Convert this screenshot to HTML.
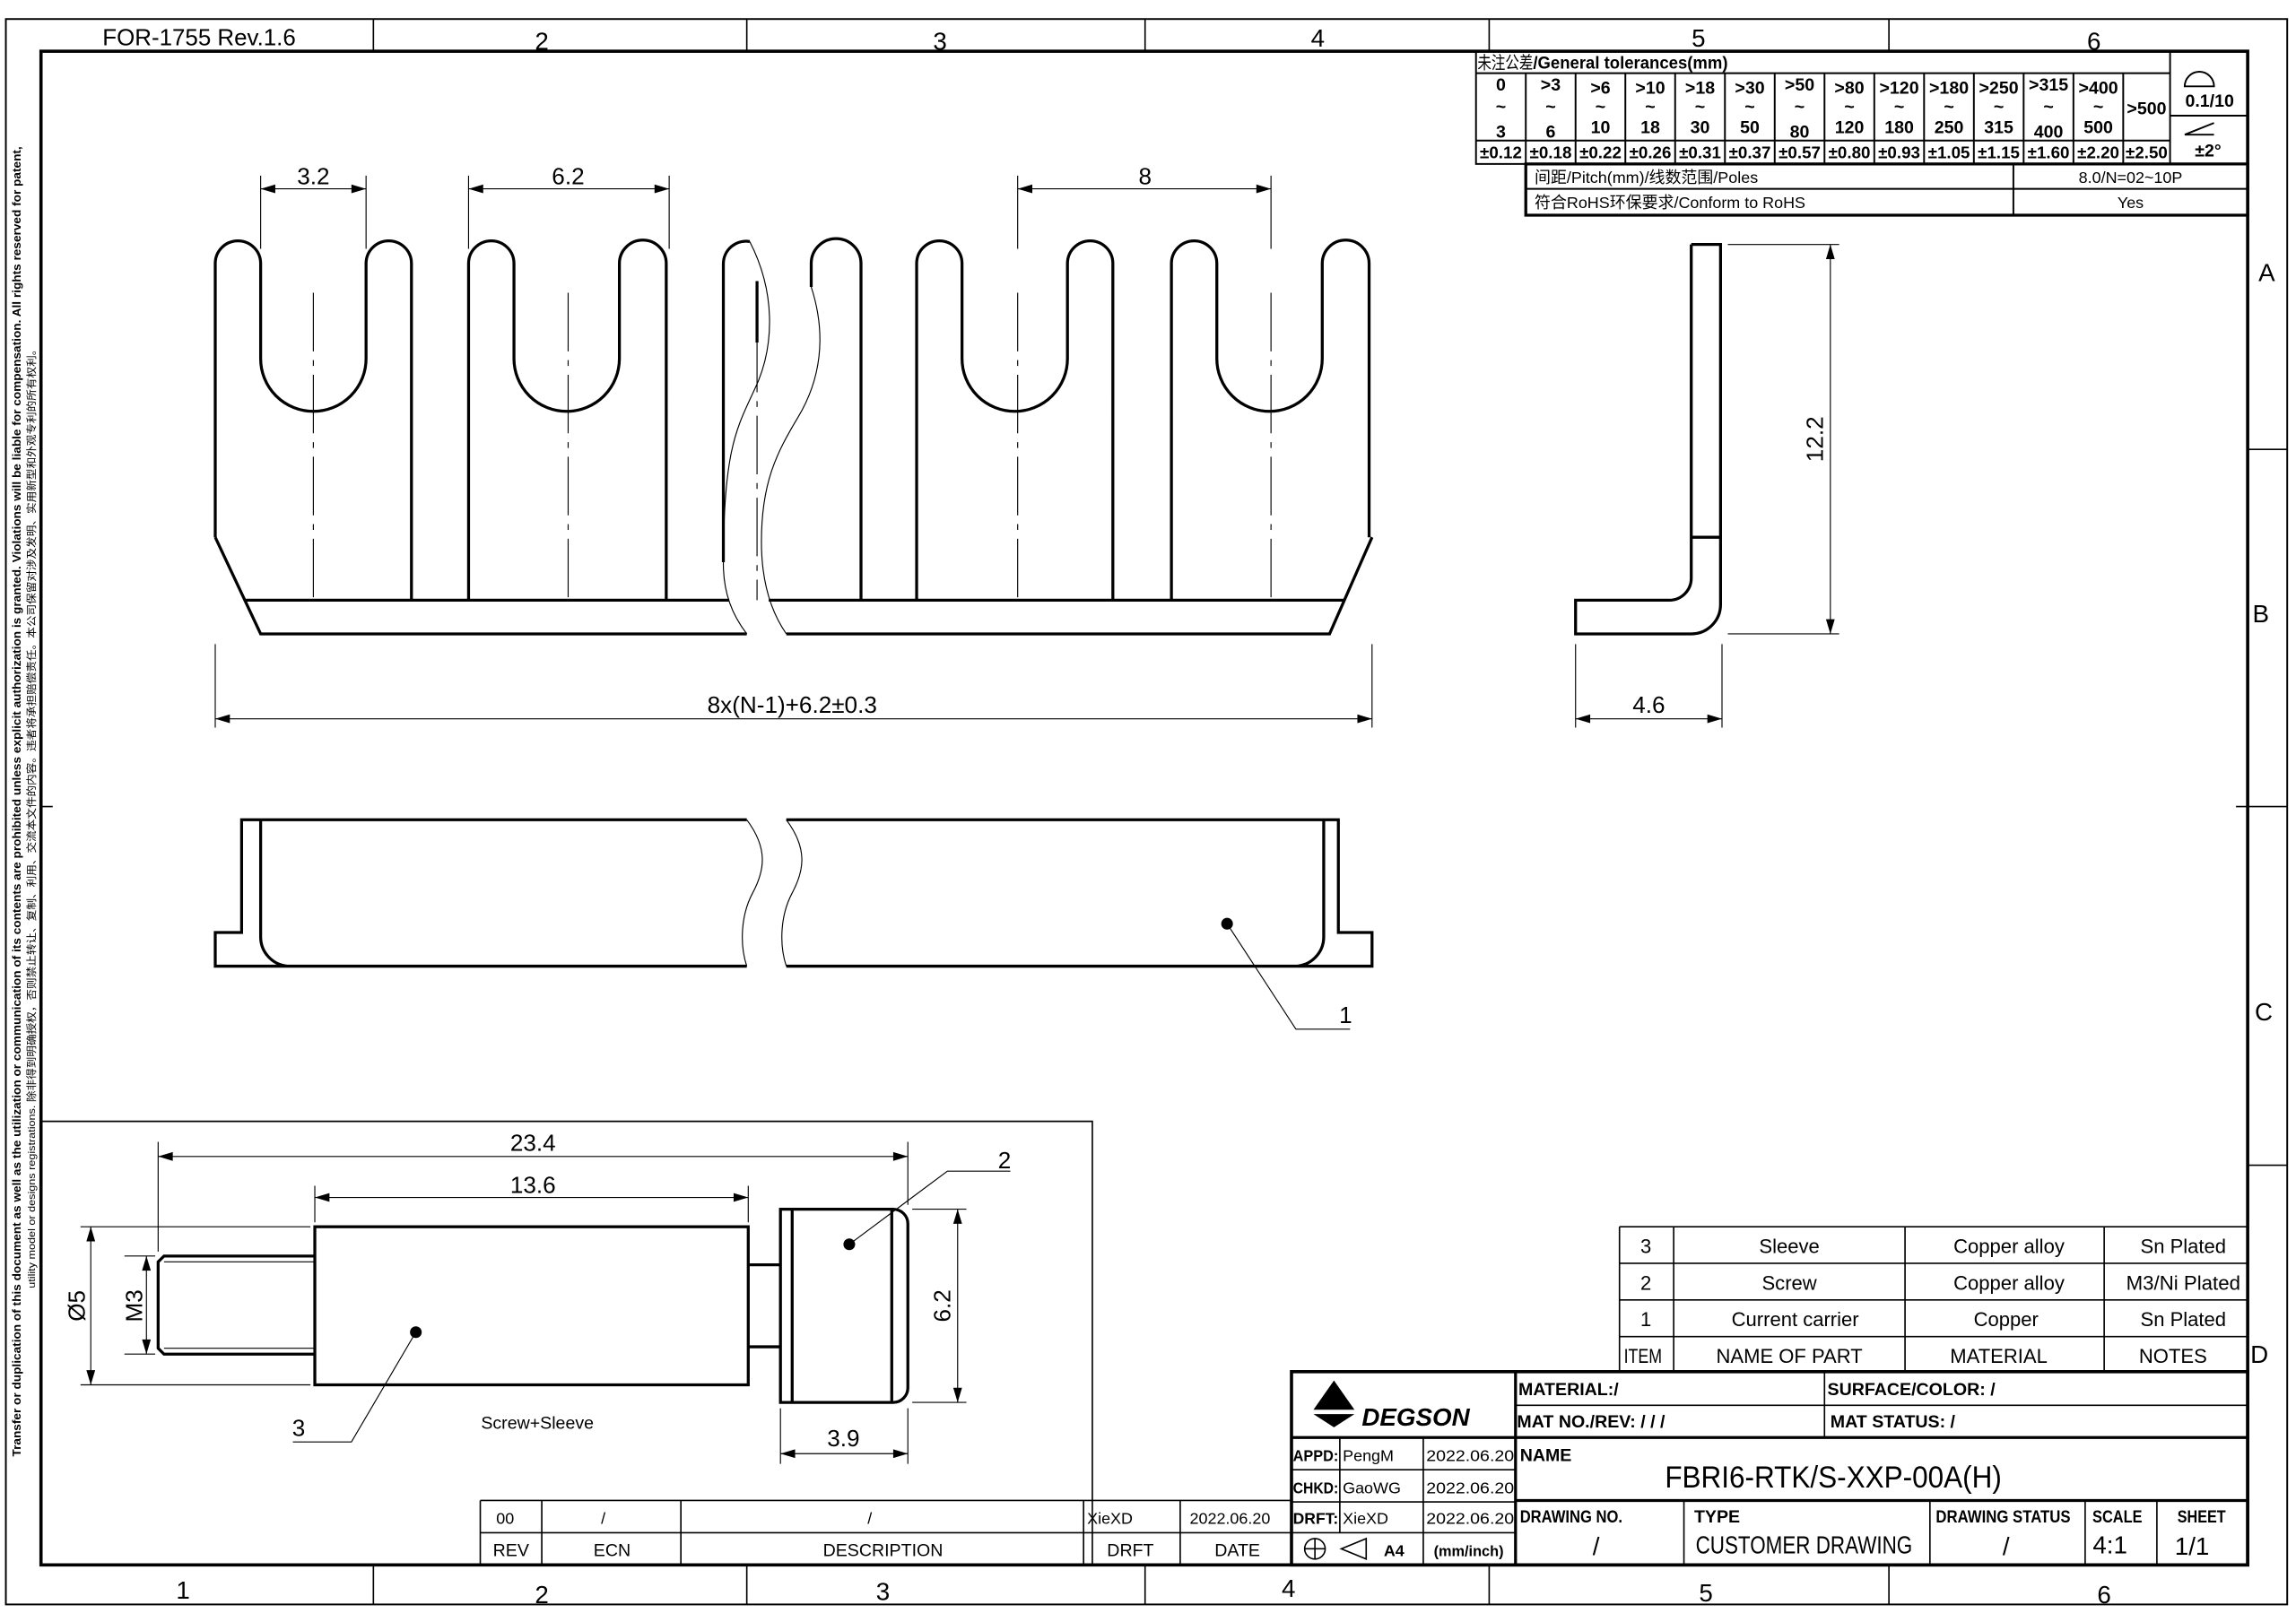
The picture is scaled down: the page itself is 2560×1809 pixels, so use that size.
<!DOCTYPE html>
<html><head><meta charset="utf-8"><style>
html,body{margin:0;padding:0;background:#fff}
svg{display:block}
text{font-family:"Liberation Sans","Noto Sans CJK SC",sans-serif;fill:#000}
.c{text-anchor:middle}
.b{font-weight:bold}
</style></head><body>
<svg width="2560" height="1809" viewBox="0 0 1568 1108" preserveAspectRatio="none" xmlns="http://www.w3.org/2000/svg">
<rect width="1568" height="1108" fill="#fff"/>
<g fill="none" stroke="#000">
<rect x="4" y="13" width="1558" height="1083" stroke-width="1.2"/>
<rect x="28" y="35" width="1507" height="1034" stroke-width="2.2"/>
<path d="M255 13V35M510 13V35M782 13V35M1017 13V35M1290 13V35M255 1069V1096M510 1069V1096M782 1069V1096M1017 1069V1096M1290 1069V1096M1535 307H1562M1535 551H1562M1535 796H1562M28 551H36M1527 551H1535" stroke-width="1"/>
</g>
<g font-size="17">
<text x="70" y="31" font-size="16" textLength="132" lengthAdjust="spacingAndGlyphs">FOR-1755 Rev.1.6</text>
<text x="370" y="34" class="c">2</text><text x="642" y="34" class="c">3</text><text x="900" y="32" class="c">4</text><text x="1160" y="32" class="c">5</text><text x="1430" y="34" class="c">6</text>
<text x="125" y="1092" class="c">1</text><text x="370" y="1095" class="c">2</text><text x="603" y="1093" class="c">3</text><text x="880" y="1091" class="c">4</text><text x="1165" y="1094" class="c">5</text><text x="1437" y="1095" class="c">6</text>
<text x="1548" y="192" class="c">A</text><text x="1544" y="425" class="c">B</text><text x="1546" y="697" class="c">C</text><text x="1543" y="931" class="c">D</text>
</g>
<text transform="translate(14,995) rotate(-90)" font-size="8" class="b" textLength="895" lengthAdjust="spacingAndGlyphs">Transfer or duplication of this document as well as the utilization or communication of its contents are prohibited unless explicit authorization is granted. Violations will be liable for compensation. All rights reserved for patent,</text>
<text transform="translate(24,880) rotate(-90)" font-size="7" textLength="645" lengthAdjust="spacingAndGlyphs">utility model or designs registrations. 除非得到明确授权，否则禁止转让、复制、利用、交流本文件的内容。违者将承担赔偿责任。本公司保留对涉及发明、实用新型和外观专利的所有权利。</text>

<g fill="none" stroke="#000" stroke-width="1.2">
<rect x="1008" y="35" width="527" height="77"/>
<path d="M1008 50H1482M1008 96H1482M1482 35V112M1482 79H1535"/>
<path d="M1042 50V112M1076 50V112M1110 50V112M1144 50V112M1178 50V112M1212 50V112M1246 50V112M1280 50V112M1314 50V112M1348 50V112M1382 50V112M1416 50V112M1450 50V112"/>
<rect x="1042" y="112" width="493" height="35" stroke-width="2"/>
<path d="M1042 129H1535M1375 112V147"/>
<path d="M1492 59A10 10 0 0 1 1512 59ZM1492 92L1512 84M1492 92H1512"/>
</g>
<text x="1009" y="47" font-size="12" textLength="38" lengthAdjust="spacingAndGlyphs">未注公差</text><text x="1047" y="47" font-size="12" class="b" textLength="133" lengthAdjust="spacingAndGlyphs">/General  tolerances(mm)</text>
<g font-size="12" class="b" text-anchor="middle">
<text x="1025" y="62">0</text><text x="1059" y="62">&gt;3</text><text x="1093" y="64">&gt;6</text><text x="1127" y="64">&gt;10</text><text x="1161" y="64">&gt;18</text><text x="1195" y="64">&gt;30</text><text x="1229" y="62">&gt;50</text><text x="1263" y="64">&gt;80</text><text x="1297" y="64">&gt;120</text><text x="1331" y="64">&gt;180</text><text x="1365" y="64">&gt;250</text><text x="1399" y="62">&gt;315</text><text x="1433" y="64">&gt;400</text>
<text x="1025" y="77">~</text><text x="1059" y="77">~</text><text x="1093" y="77">~</text><text x="1127" y="77">~</text><text x="1161" y="77">~</text><text x="1195" y="77">~</text><text x="1229" y="77">~</text><text x="1263" y="77">~</text><text x="1297" y="77">~</text><text x="1331" y="77">~</text><text x="1365" y="77">~</text><text x="1399" y="77">~</text><text x="1433" y="77">~</text>
<text x="1025" y="94">3</text><text x="1059" y="94">6</text><text x="1093" y="91">10</text><text x="1127" y="91">18</text><text x="1161" y="91">30</text><text x="1195" y="91">50</text><text x="1229" y="94">80</text><text x="1263" y="91">120</text><text x="1297" y="91">180</text><text x="1331" y="91">250</text><text x="1365" y="91">315</text><text x="1399" y="94">400</text><text x="1433" y="91">500</text>
<text x="1466" y="78">&gt;500</text>
<text x="1509" y="73">0.1/10</text><text x="1508" y="107">±2°</text>
</g>
<g font-size="11.5" class="b" text-anchor="middle">
<text x="1025" y="108">±0.12</text><text x="1059" y="108">±0.18</text><text x="1093" y="108">±0.22</text><text x="1127" y="108">±0.26</text><text x="1161" y="108">±0.31</text><text x="1195" y="108">±0.37</text><text x="1229" y="108">±0.57</text><text x="1263" y="108">±0.80</text><text x="1297" y="108">±0.93</text><text x="1331" y="108">±1.05</text><text x="1365" y="108">±1.15</text><text x="1399" y="108">±1.60</text><text x="1433" y="108">±2.20</text><text x="1466" y="108">±2.50</text>
</g>
<g font-size="11" fill="#333">
<text x="1048" y="125">间距/Pitch(mm)/线数范围/Poles</text>
<text x="1048" y="142">符合RoHS环保要求/Conform to RoHS</text>
<text x="1455" y="125" class="c">8.0/N=02~10P</text>
<text x="1455" y="142" class="c">Yes</text>
</g>

<g fill="none" stroke="#000" stroke-width="2">
<path d="M147 367V180A15.5 15.5 0 0 1 178 180V245A36 36 0 0 0 250 245V180A15.5 15.5 0 0 1 281 180V410"/>
<path d="M320 410V180A15.5 15.5 0 0 1 351 180V245A36 36 0 0 0 423 245V180A15.5 15.5 0 0 1 455 180V410"/>
<path d="M626 410V180A15.5 15.5 0 0 1 657 180V245A36 36 0 0 0 729 245V180A15.5 15.5 0 0 1 760 180V410"/>
<path d="M800 410V180A15.5 15.5 0 0 1 831 180V245A36 36 0 0 0 903 245V180A15.5 15.5 0 0 1 935 180V367"/>
<path d="M494 384V180A15.5 15.5 0 0 1 512 165M517 192V234M554 196V180A17 17 0 0 1 588 180V410"/>
<path d="M147 367L178 433H510M537 433H908L937 367M168 410H498M525 410H918"/>
</g>
<g fill="none" stroke="#000" stroke-width="0.7">
<path d="M512 165C530 200 528 235 518 260C505 290 494 300 494 385C494 405 500 420 510 433"/>
<path d="M554 196C565 230 560 260 545 285C530 310 520 330 520 370C520 400 528 420 537 433"/>
<path d="M214 200V410M388 200V410M517 228V410M695 200V410M868 200V410" stroke-dasharray="40 6 4 6"/>
<path d="M178 120V170M250 120V170M320 120V170M457 120V170M695 120V170M868 120V170M147 440V497M937 440V497"/>
<path d="M178 129H250M320 129H457M695 129H868M147 491H937"/>
</g>
<g fill="#000">
<path d="M178 129l10-3v6zM250 129l-10-3v6zM320 129l10-3v6zM457 129l-10-3v6zM695 129l10-3v6zM868 129l-10-3v6zM147 491l10-3v6zM937 491l-10-3v6z"/>
</g>
<g font-size="16" text-anchor="middle">
<text x="214" y="126">3.2</text><text x="388" y="126">6.2</text><text x="782" y="126">8</text><text x="541" y="487">8x(N-1)+6.2±0.3</text>
</g>

<g fill="none" stroke="#000" stroke-width="2">
<path d="M1155 167H1175V413A20 20 0 0 1 1155 433H1076V410H1140A15 15 0 0 0 1155 395V167M1155 367H1175"/>
</g>
<g fill="none" stroke="#000" stroke-width="0.7">
<path d="M1180 167H1256M1180 433H1256M1250 167V433M1076 440V497M1176 440V497M1076 491H1176"/>
</g>
<g fill="#000"><path d="M1250 167l-3 10h6zM1250 433l-3-10h6zM1076 491l10-3v6zM1176 491l-10-3v6z"/></g>
<text x="1126" y="487" font-size="16" class="c">4.6</text>
<text transform="translate(1245,300) rotate(-90)" font-size="16" class="c">12.2</text>

<g fill="none" stroke="#000" stroke-width="2">
<path d="M510 560H165V637H147V660H510M537 560H914V637H937V660H537M178 560V640A20 20 0 0 0 198 660M904 560V640A20 20 0 0 1 884 660"/>
</g>
<g fill="none" stroke="#000" stroke-width="0.7">
<path d="M510 560C525 580 522 595 514 610C506 625 505 645 510 660M537 560C552 580 549 595 541 610C533 625 532 645 537 660"/>
<path d="M838 631L885 703H922"/>
</g>
<circle cx="838" cy="631" r="4" fill="#000"/>
<text x="919" y="699" font-size="16" class="c">1</text>

<path d="M28 766H746V1069" fill="none" stroke="#000" stroke-width="1"/>
<g fill="none" stroke="#000" stroke-width="2">
<path d="M215 858H112L108 862V921L112 925H215"/>
<rect x="215" y="838" width="296" height="108"/>
<path d="M511 864H533M511 920H533"/>
<path d="M533 826H610A10 10 0 0 1 620 836V948A10 10 0 0 1 610 958H533ZM541 826V958M609 826V958"/>
</g>
<g fill="none" stroke="#000" stroke-width="0.7">
<path d="M112 862H215M112 921H215"/>
<path d="M108 780V855M620 780V823M215 810V835M511 810V835M108 790H620M215 818H511"/>
<path d="M55 838H212M55 946H212M62 838V946M85 858H106M85 925H106M100 858V925"/>
<path d="M623 826H660M623 958H660M654 826V958M533 962V1000M620 962V1000M533 993H620"/>
<path d="M580 850L647 800H690M284 910L240 985H200"/>
</g>
<g fill="#000">
<path d="M108 790l10-3v6zM620 790l-10-3v6zM215 818l10-3v6zM511 818l-10-3v6zM62 838l-3 10h6zM62 946l-3-10h6zM100 858l-3 10h6zM100 925l-3-10h6zM654 826l-3 10h6zM654 958l-3-10h6zM533 993l10-3v6zM620 993l-10-3v6z"/>
<circle cx="580" cy="850" r="4"/><circle cx="284" cy="910" r="4"/>
</g>
<g font-size="16" text-anchor="middle">
<text x="364" y="786">23.4</text><text x="364" y="815">13.6</text><text x="576" y="988">3.9</text>
<text x="686" y="798">2</text><text x="204" y="981">3</text>
<text transform="translate(58,892) rotate(-90)">Ø5</text>
<text transform="translate(97,892) rotate(-90)">M3</text>
<text transform="translate(649,892) rotate(-90)">6.2</text>
</g>
<text x="367" y="976" font-size="12" class="c" fill="#333">Screw+Sleeve</text>

<g fill="none" stroke="#000" stroke-width="1">
<path d="M328 1025H882M328 1047H882M328 1025V1069M370 1025V1069M465 1025V1069M740 1025V1069M806 1025V1069"/>
</g>
<g font-size="11" text-anchor="middle">
<text x="345" y="1041">00</text><text x="412" y="1041">/</text><text x="594" y="1041">/</text><text x="758" y="1041">XieXD</text><text x="840" y="1041">2022.06.20</text>
</g>
<g font-size="12" text-anchor="middle" fill="#666">
<text x="349" y="1063">REV</text><text x="418" y="1063">ECN</text><text x="603" y="1063">DESCRIPTION</text><text x="772" y="1063">DRFT</text><text x="845" y="1063">DATE</text>
</g>

<g fill="none" stroke="#000" stroke-width="1">
<path d="M1106 838H1535M1106 863H1535M1106 888H1535M1106 913H1535M1106 838V937M1143 838V937M1301 838V937M1437 838V937"/>
</g>
<g font-size="13.5" text-anchor="middle">
<text x="1124" y="856">3</text><text x="1222" y="856">Sleeve</text><text x="1372" y="856">Copper alloy</text><text x="1491" y="856">Sn Plated</text>
<text x="1124" y="881">2</text><text x="1222" y="881">Screw</text><text x="1372" y="881">Copper alloy</text><text x="1491" y="881" textLength="78" lengthAdjust="spacingAndGlyphs">M3/Ni Plated</text>
<text x="1124" y="906">1</text><text x="1226" y="906">Current carrier</text><text x="1370" y="906">Copper</text><text x="1491" y="906">Sn Plated</text>
<text x="1122" y="931" textLength="26" lengthAdjust="spacingAndGlyphs">ITEM</text><text x="1222" y="931">NAME OF PART</text><text x="1365" y="931">MATERIAL</text><text x="1484" y="931">NOTES</text>
</g>

<g fill="none" stroke="#000">
<rect x="882" y="937" width="653" height="132" stroke-width="2.2"/>
<path d="M882 982H1535M1035 1025H1535M1035 937V1069" stroke-width="2"/>
<path d="M1035 960H1535M1246 937V982M882 1004H1035M882 1026H1035M882 1047H1035M915 982V1047M972 982V1069M1150 1025V1069M1318 1025V1069M1424 1025V1069M1473 1025V1069" stroke-width="1"/>
</g>
<path d="M911 943L897 963H925ZM897 966H925L911 975Z" fill="#000"/>
<text x="930" y="974" font-size="17" class="b" font-style="italic">DEGSON</text>
<g font-size="11">
<text x="883" y="998" class="b" textLength="31" lengthAdjust="spacingAndGlyphs">APPD:</text><text x="917" y="998">PengM</text><text x="974" y="998" textLength="60" lengthAdjust="spacingAndGlyphs">2022.06.20</text>
<text x="883" y="1020" class="b" textLength="31" lengthAdjust="spacingAndGlyphs">CHKD:</text><text x="917" y="1020">GaoWG</text><text x="974" y="1020" textLength="60" lengthAdjust="spacingAndGlyphs">2022.06.20</text>
<text x="883" y="1041" class="b" textLength="31" lengthAdjust="spacingAndGlyphs">DRFT:</text><text x="917" y="1041">XieXD</text><text x="974" y="1041" textLength="60" lengthAdjust="spacingAndGlyphs">2022.06.20</text>
<text x="945" y="1063" class="b">A4</text><text x="1003" y="1063" class="c b" font-size="10">(mm/inch)</text>
</g>
<g fill="none" stroke="#000" stroke-width="1"><circle cx="898" cy="1058" r="7"/><path d="M891 1058H905M898 1051V1065M916 1058L933 1051V1065Z"/></g>
<g font-size="12" class="b">
<text x="1037" y="953">MATERIAL:/</text><text x="1248" y="953">SURFACE/COLOR:  /</text>
<text x="1036" y="975">MAT NO./REV:  /            / /</text><text x="1250" y="975">MAT STATUS: /</text>
<text x="1038" y="998">NAME</text>
<text x="1038" y="1040" textLength="70" lengthAdjust="spacingAndGlyphs">DRAWING NO.</text><text x="1157" y="1040">TYPE</text><text x="1322" y="1040" textLength="92" lengthAdjust="spacingAndGlyphs">DRAWING STATUS</text><text x="1429" y="1040" textLength="34" lengthAdjust="spacingAndGlyphs">SCALE</text><text x="1487" y="1040" textLength="33" lengthAdjust="spacingAndGlyphs">SHEET</text>
</g>
<text x="1252" y="1016" font-size="21" class="c" textLength="230" lengthAdjust="spacingAndGlyphs">FBRI6-RTK/S-XXP-00A(H)</text>
<text x="1158" y="1061" font-size="17" textLength="148" lengthAdjust="spacingAndGlyphs">CUSTOMER DRAWING</text>
<g font-size="17" text-anchor="middle">
<text x="1090" y="1062">/</text><text x="1370" y="1062">/</text><text x="1441" y="1061">4:1</text><text x="1497" y="1062">1/1</text>
</g>
</svg>
</body></html>
